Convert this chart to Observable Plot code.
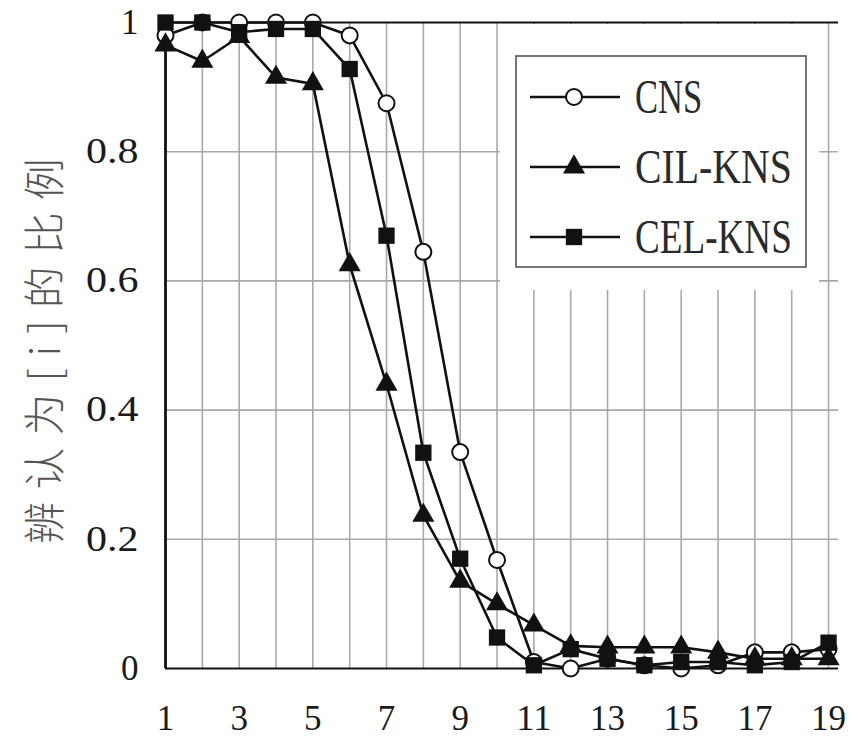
<!DOCTYPE html>
<html>
<head>
<meta charset="utf-8">
<script src="https://cdn.jsdelivr.net/npm/d3@7"></script>
<script src="https://cdn.jsdelivr.net/npm/@observablehq/plot@0.6"></script>
<style>
  html, body { margin: 0; padding: 0; background: #fff; }
  #chart { width: 852px; height: 748px; }
</style>
</head>
<body>
<div id="chart"></div>
<script>
// ---- data ----
const xValues = [1,2,3,4,5,6,7,8,9,10,11,12,13,14,15,16,17,18,19];
const cnsValues = [0.98,1.0,1.0,1.0,1.0,0.98,0.875,0.645,0.335,0.168,0.01,0.0,0.015,0.005,0.0,0.005,0.025,0.025,0.03];
const cilValues = [0.965,0.94,0.978,0.915,0.905,0.625,0.44,0.237,0.135,0.1,0.067,0.035,0.033,0.033,0.033,0.025,0.015,0.015,0.015];
const celValues = [1.0,1.0,0.985,0.99,0.99,0.928,0.67,0.334,0.17,0.048,0.005,0.03,0.015,0.005,0.01,0.01,0.005,0.01,0.04];
const seriesNames = ["CNS","CIL-KNS","CEL-KNS"];
const xTicks = [1,3,5,7,9,11,13,15,17,19];
const yTicks = [0,0.2,0.4,0.6,0.8,1];
const yTickLabels = ["0","0.2","0.4","0.6","0.8","1"];
const xGrid = [2,3,4,5,6,7,8,9,10,11,12,13,14,15,16,17,18,19];
const yGrid = [0.2,0.4,0.6,0.8];
const yLabel = "辨认为[i]的比例";

const toRows = (vals, s) => xValues.map((x, i) => ({x, v: vals[i], s}));
const cnsRows = toRows(cnsValues, seriesNames[0]);
const cilRows = toRows(cilValues, seriesNames[1]);
const celRows = toRows(celValues, seriesNames[2]);

const ink = "#111";
const grid = "#a9a9a9";

const plot = Plot.plot({
  width: 852,
  height: 748,
  marginLeft: 165,
  marginRight: 14,
  marginTop: 22,
  marginBottom: 80,
  style: {fontFamily: "'Liberation Serif', serif", fontSize: "35px", color: "#1a1a1a", background: "#fff"},
  x: {domain: [1, 19.27], label: null},
  y: {domain: [0, 1], label: null},
  marks: [
    Plot.ruleX(xGrid, {y1: 0, y2: 1, stroke: grid, strokeWidth: 1.6}),
    Plot.ruleY(yGrid, {stroke: grid, strokeWidth: 1.6}),
    Plot.ruleY([0, 1], {stroke: ink, strokeWidth: 2.2}),
    Plot.ruleX([1], {y1: 0, y2: 1, stroke: ink, strokeWidth: 2.8}),
    Plot.axisX(xTicks, {tickSize: 0, tickPadding: 37, label: null, tickFormat: d => String(d)}),
    Plot.axisY(yTicks, {tickSize: 0, tickPadding: 27, label: null, tickFormat: (d, i) => yTickLabels[i]}),
    Plot.line(cnsRows, {x: "x", y: "v", stroke: ink, strokeWidth: 2.6}),
    Plot.dot(cnsRows, {x: "x", y: "v", r: 8, fill: "#fff", stroke: ink, strokeWidth: 2}),
    Plot.line(cilRows, {x: "x", y: "v", stroke: ink, strokeWidth: 2.6}),
    Plot.dot(cilRows, {x: "x", y: "v", symbol: "triangle", r: 8.2, fill: ink, stroke: "none"}),
    Plot.line(celRows, {x: "x", y: "v", stroke: ink, strokeWidth: 2.6}),
    Plot.dot(celRows, {x: "x", y: "v", symbol: "square", r: 9.2, fill: ink, stroke: "none"})
  ]
});

const svg = d3.select(plot);

// SimSun-like half-width Latin: each character 0.5em wide
svg.selectAll('g[aria-label="x-axis tick label"] text, g[aria-label="y-axis tick label"] text').each(function() {
  const t = d3.select(this);
  const n = t.text().length;
  t.attr("textLength", n * 0.5 * 35).attr("lengthAdjust", "spacingAndGlyphs");
});

// y axis title
svg.append("text")
  .attr("transform", "translate(60,345) rotate(-90)")
  .attr("text-anchor", "middle")
  .attr("font-family", "'Noto Sans CJK SC', sans-serif")
  .attr("font-weight", 300)
  .attr("font-size", 42)
  .attr("letter-spacing", 12)
  .attr("fill", "#555")
  .text(yLabel);

// legend (white backing area hides grid lines, then framed box)
const lg = svg.append("g").attr("text-anchor", "start");
lg.append("rect").attr("x", 500).attr("y", 24).attr("width", 319).attr("height", 266).attr("fill", "#fff");
lg.append("rect").attr("x", 516).attr("y", 56).attr("width", 290).attr("height", 211)
  .attr("fill", "#fff").attr("stroke", "#555").attr("stroke-width", 1.6);
const rowsY = [97, 167, 237];
const symbols = [d3.symbolCircle, d3.symbolTriangle, d3.symbolSquare];
const sizes = [8, 8.2, 9.2];
seriesNames.forEach((name, i) => {
  const y = rowsY[i];
  lg.append("line").attr("x1", 530).attr("x2", 620).attr("y1", y).attr("y2", y)
    .attr("stroke", ink).attr("stroke-width", 2.5);
  const p = lg.append("path")
    .attr("d", d3.symbol(symbols[i], sizes[i] * sizes[i] * Math.PI)())
    .attr("transform", `translate(574,${y})`);
  if (i === 0) p.attr("fill", "#fff").attr("stroke", ink).attr("stroke-width", 2);
  else p.attr("fill", ink);
  lg.append("text").attr("x", 635).attr("y", y + 16)
    .attr("text-anchor", "start")
    .attr("font-family", "'Liberation Serif', serif")
    .attr("font-size", 48)
    .attr("fill", "#2a2a2a")
    .attr("textLength", name.length * 22.4)
    .attr("lengthAdjust", "spacingAndGlyphs")
    .text(name);
});

document.getElementById("chart").appendChild(plot);
</script>
</body>
</html>
